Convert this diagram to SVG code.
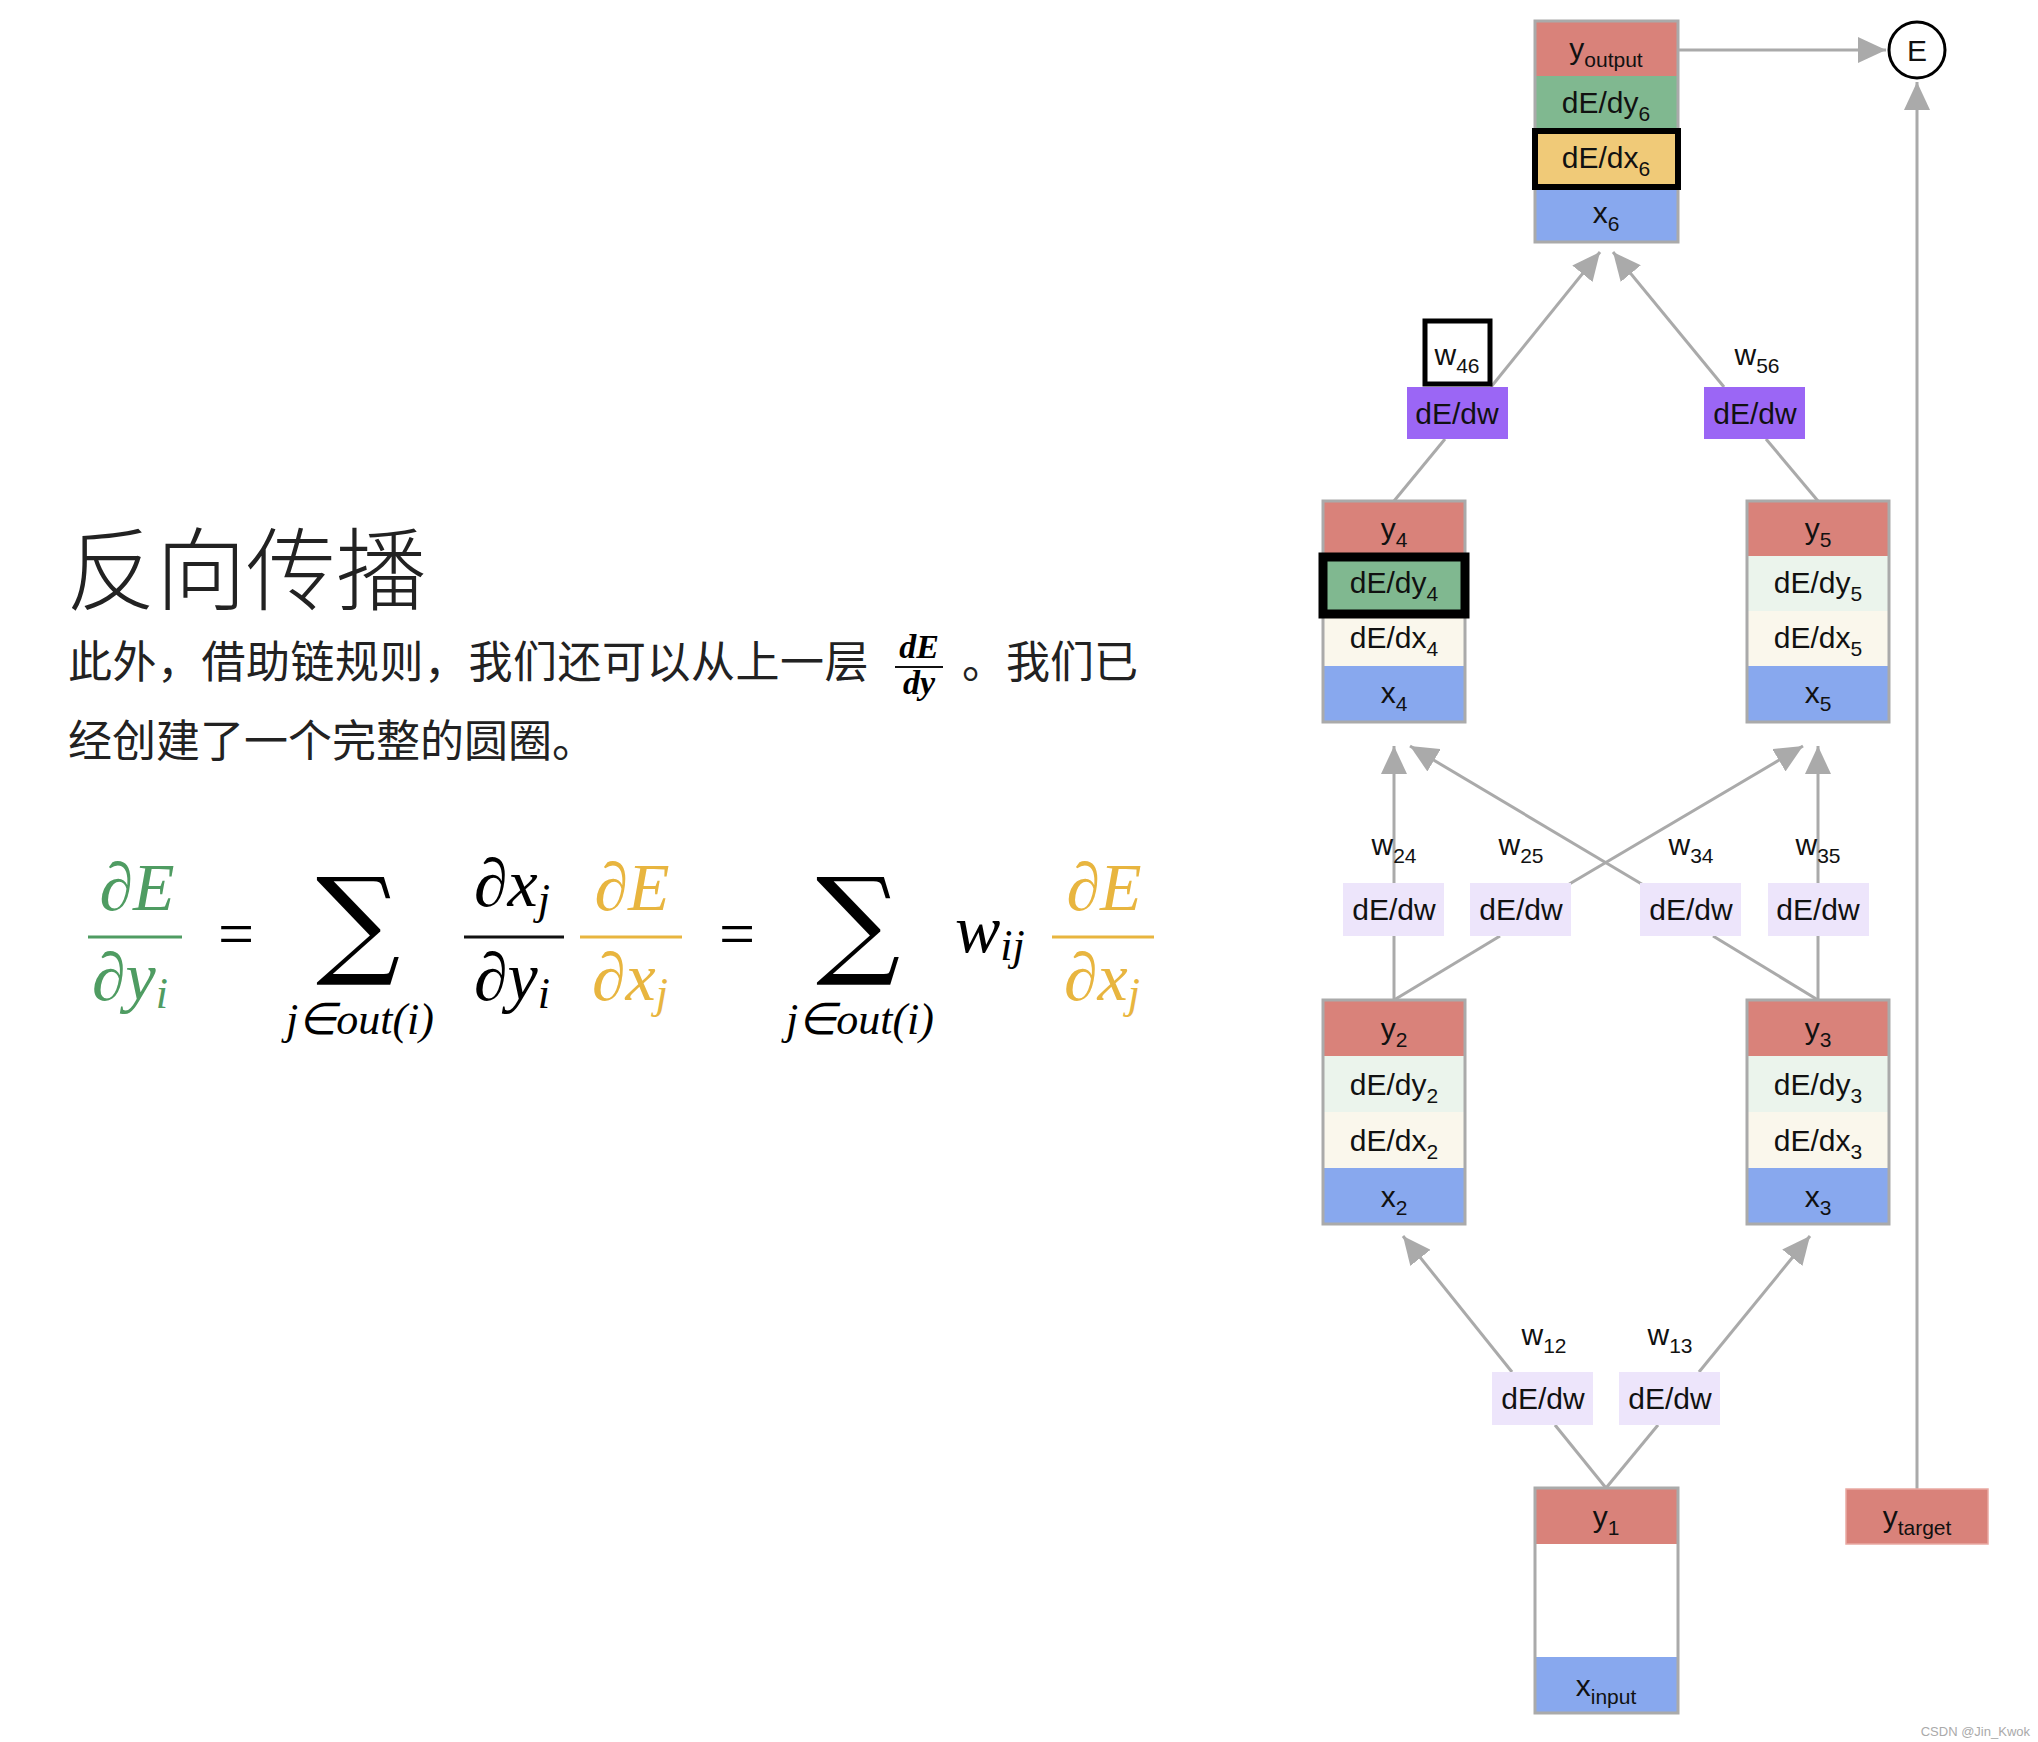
<svg xmlns="http://www.w3.org/2000/svg" width="2038" height="1742" viewBox="0 0 2038 1742">
<style>
.t{font-family:"Liberation Sans",Arial,sans-serif;font-size:30px;fill:#111;text-anchor:middle}
.s{font-size:21px}
.bd{fill:none;stroke:#aaa;stroke-width:3}
.ln{stroke:#aaa;stroke-width:3;fill:none}
.r{fill:#d9827a}.g{fill:#80b890}.y{fill:#f0ca78}.b{fill:#88a8ee}.lg{fill:#ebf4ec}.cr{fill:#faf7ec}
.p{fill:#9b66f5}.lp{fill:#ede5fb}
.cn{font-family:"Noto Sans CJK SC",sans-serif;fill:#222}
.m{font-family:"Liberation Serif","Times New Roman",serif;font-style:italic}
</style>
<defs>
<marker id="ah" markerUnits="userSpaceOnUse" markerWidth="30" markerHeight="26" refX="28" refY="13" orient="auto"><path d="M0,0 L28,13 L0,26 Z" fill="#aaa"/></marker>
</defs>
<rect width="2038" height="1742" fill="#fff"/>
<g id="text-left">
<text class="cn" x="66" y="603" font-size="90" font-weight="300">反向传播</text>
<text class="cn" x="68" y="678" font-size="44" letter-spacing="0.5">此外，借助链规则，我们还可以从上一层</text>
<text class="m" x="919" y="658" font-size="34" font-weight="bold" text-anchor="middle">dE</text>
<line x1="895" y1="667" x2="943" y2="667" stroke="#111" stroke-width="2"/>
<text class="m" x="919" y="694" font-size="34" font-weight="bold" text-anchor="middle">dy</text>
<text class="cn" x="962" y="678" font-size="44">。我们已</text>
<text class="cn" x="68" y="757" font-size="44">经创建了一个完整的圆圈。</text>
</g>
<g id="equation" class="m" font-size="68">
<text x="137" y="910" fill="#4f9c62" text-anchor="middle">∂E</text>
<line x1="88" y1="937" x2="182" y2="937" stroke="#4f9c62" stroke-width="3"/>
<text x="130" y="1000" fill="#4f9c62" text-anchor="middle">∂y<tspan font-size="44" dy="8">i</tspan></text>
<text x="236" y="955" font-style="normal" font-size="64" text-anchor="middle">=</text>
<text x="358" y="962" font-style="normal" font-size="118" font-family="DejaVu Serif,serif" text-anchor="middle">∑</text>
<text x="360" y="1034" font-size="44" text-anchor="middle">j∈out(i)</text>
<text x="512" y="906" text-anchor="middle">∂x<tspan font-size="44" dy="8">j</tspan></text>
<line x1="464" y1="937" x2="564" y2="937" stroke="#111" stroke-width="3"/>
<text x="512" y="1000" text-anchor="middle">∂y<tspan font-size="44" dy="8">i</tspan></text>
<text x="632" y="910" fill="#e8b53f" text-anchor="middle">∂E</text>
<line x1="580" y1="937" x2="682" y2="937" stroke="#e8b53f" stroke-width="3"/>
<text x="630" y="1000" fill="#e8b53f" text-anchor="middle">∂x<tspan font-size="44" dy="8">j</tspan></text>
<text x="737" y="955" font-style="normal" font-size="64" text-anchor="middle">=</text>
<text x="858" y="962" font-style="normal" font-size="118" font-family="DejaVu Serif,serif" text-anchor="middle">∑</text>
<text x="860" y="1034" font-size="44" text-anchor="middle">j∈out(i)</text>
<text x="955" y="952">w<tspan font-size="44" dy="8">ij</tspan></text>
<text x="1104" y="910" fill="#e8b53f" text-anchor="middle">∂E</text>
<line x1="1052" y1="937" x2="1154" y2="937" stroke="#e8b53f" stroke-width="3"/>
<text x="1102" y="1000" fill="#e8b53f" text-anchor="middle">∂x<tspan font-size="44" dy="8">j</tspan></text>
</g>
<g id="connectors">
<line class="ln" x1="1678" y1="50" x2="1886" y2="50" marker-end="url(#ah)"/>
<line class="ln" x1="1917" y1="1489" x2="1917" y2="82" marker-end="url(#ah)"/>
<line class="ln" x1="1394" y1="501" x2="1445" y2="439"/>
<line class="ln" x1="1491" y1="387" x2="1600" y2="252" marker-end="url(#ah)"/>
<line class="ln" x1="1818" y1="501" x2="1766" y2="439"/>
<line class="ln" x1="1724" y1="387" x2="1613" y2="252" marker-end="url(#ah)"/>
<line class="ln" x1="1394" y1="1000" x2="1394" y2="746" marker-end="url(#ah)"/>
<line class="ln" x1="1818" y1="1000" x2="1818" y2="746" marker-end="url(#ah)"/>
<line class="ln" x1="1394" y1="1000" x2="1500" y2="936"/>
<line class="ln" x1="1818" y1="1000" x2="1713" y2="936"/>
<line class="ln" x1="1645" y1="886" x2="1410" y2="746" marker-end="url(#ah)"/>
<line class="ln" x1="1566" y1="886" x2="1803" y2="746" marker-end="url(#ah)"/>
<line class="ln" x1="1606" y1="1488" x2="1555" y2="1425"/>
<line class="ln" x1="1606" y1="1488" x2="1658" y2="1425"/>
<line class="ln" x1="1512" y1="1372" x2="1403" y2="1236" marker-end="url(#ah)"/>
<line class="ln" x1="1699" y1="1372" x2="1810" y2="1236" marker-end="url(#ah)"/>
</g>
<g id="node6">
<rect class="r" x="1535" y="21" width="143" height="55"/>
<rect class="g" x="1535" y="76" width="143" height="55"/>
<rect class="y" x="1535" y="131" width="143" height="55"/>
<rect class="b" x="1535" y="186" width="143" height="56"/>
<rect class="bd" x="1535" y="21" width="143" height="221"/>
<rect x="1535" y="131" width="143" height="56" fill="none" stroke="#000" stroke-width="6"/>
<text class="t" x="1606" y="59">y<tspan class="s" dy="8">output</tspan></text>
<text class="t" x="1606" y="113">dE/dy<tspan class="s" dy="8">6</tspan></text>
<text class="t" x="1606" y="168">dE/dx<tspan class="s" dy="8">6</tspan></text>
<text class="t" x="1606" y="223">x<tspan class="s" dy="8">6</tspan></text>
</g>
<g id="E"><circle cx="1917" cy="50" r="28" fill="#fff" stroke="#000" stroke-width="3"/><text class="t" x="1917" y="61">E</text></g>
<g id="w46"><rect x="1425" y="321" width="65" height="63" fill="#fff" stroke="#000" stroke-width="5"/><text class="t" x="1457" y="365">w<tspan class="s" dy="8">46</tspan></text></g>
<g id="dw46"><rect class="p" x="1407" y="387" width="101" height="52"/><text class="t" x="1457" y="424">dE/dw</text></g>
<g id="w56"><text class="t" x="1757" y="365">w<tspan class="s" dy="8">56</tspan></text></g>
<g id="dw56"><rect class="p" x="1704" y="387" width="101" height="52"/><text class="t" x="1755" y="424">dE/dw</text></g>
<g id="node4">
<rect class="r" x="1323" y="501" width="142" height="55"/>
<rect class="g" x="1323" y="556" width="142" height="55"/>
<rect class="cr" x="1323" y="611" width="142" height="55"/>
<rect class="b" x="1323" y="666" width="142" height="56"/>
<rect class="bd" x="1323" y="501" width="142" height="221"/>
<rect x="1323" y="557" width="142" height="57" fill="none" stroke="#000" stroke-width="9"/>
<text class="t" x="1394" y="539">y<tspan class="s" dy="8">4</tspan></text>
<text class="t" x="1394" y="593">dE/dy<tspan class="s" dy="8">4</tspan></text>
<text class="t" x="1394" y="648">dE/dx<tspan class="s" dy="8">4</tspan></text>
<text class="t" x="1394" y="703">x<tspan class="s" dy="8">4</tspan></text>
</g>
<g id="node5">
<rect class="r" x="1747" y="501" width="142" height="55"/>
<rect class="lg" x="1747" y="556" width="142" height="55"/>
<rect class="cr" x="1747" y="611" width="142" height="55"/>
<rect class="b" x="1747" y="666" width="142" height="56"/>
<rect class="bd" x="1747" y="501" width="142" height="221"/>
<text class="t" x="1818" y="539">y<tspan class="s" dy="8">5</tspan></text>
<text class="t" x="1818" y="593">dE/dy<tspan class="s" dy="8">5</tspan></text>
<text class="t" x="1818" y="648">dE/dx<tspan class="s" dy="8">5</tspan></text>
<text class="t" x="1818" y="703">x<tspan class="s" dy="8">5</tspan></text>
</g>
<g id="weights-mid">
<text class="t" x="1394" y="855">w<tspan class="s" dy="8">24</tspan></text>
<text class="t" x="1521" y="855">w<tspan class="s" dy="8">25</tspan></text>
<text class="t" x="1691" y="855">w<tspan class="s" dy="8">34</tspan></text>
<text class="t" x="1818" y="855">w<tspan class="s" dy="8">35</tspan></text>
<rect class="lp" x="1343" y="883" width="101" height="53"/><text class="t" x="1394" y="920">dE/dw</text>
<rect class="lp" x="1470" y="883" width="101" height="53"/><text class="t" x="1521" y="920">dE/dw</text>
<rect class="lp" x="1640" y="883" width="101" height="53"/><text class="t" x="1691" y="920">dE/dw</text>
<rect class="lp" x="1768" y="883" width="101" height="53"/><text class="t" x="1818" y="920">dE/dw</text>
</g>
<g id="node2">
<rect class="r" x="1323" y="1000" width="142" height="56"/>
<rect class="lg" x="1323" y="1056" width="142" height="56"/>
<rect class="cr" x="1323" y="1112" width="142" height="56"/>
<rect class="b" x="1323" y="1168" width="142" height="56"/>
<rect class="bd" x="1323" y="1000" width="142" height="224"/>
<text class="t" x="1394" y="1039">y<tspan class="s" dy="8">2</tspan></text>
<text class="t" x="1394" y="1095">dE/dy<tspan class="s" dy="8">2</tspan></text>
<text class="t" x="1394" y="1151">dE/dx<tspan class="s" dy="8">2</tspan></text>
<text class="t" x="1394" y="1207">x<tspan class="s" dy="8">2</tspan></text>
</g>
<g id="node3">
<rect class="r" x="1747" y="1000" width="142" height="56"/>
<rect class="lg" x="1747" y="1056" width="142" height="56"/>
<rect class="cr" x="1747" y="1112" width="142" height="56"/>
<rect class="b" x="1747" y="1168" width="142" height="56"/>
<rect class="bd" x="1747" y="1000" width="142" height="224"/>
<text class="t" x="1818" y="1039">y<tspan class="s" dy="8">3</tspan></text>
<text class="t" x="1818" y="1095">dE/dy<tspan class="s" dy="8">3</tspan></text>
<text class="t" x="1818" y="1151">dE/dx<tspan class="s" dy="8">3</tspan></text>
<text class="t" x="1818" y="1207">x<tspan class="s" dy="8">3</tspan></text>
</g>
<g id="weights-low">
<text class="t" x="1544" y="1345">w<tspan class="s" dy="8">12</tspan></text>
<text class="t" x="1670" y="1345">w<tspan class="s" dy="8">13</tspan></text>
<rect class="lp" x="1492" y="1372" width="101" height="53"/><text class="t" x="1543" y="1409">dE/dw</text>
<rect class="lp" x="1619" y="1372" width="101" height="53"/><text class="t" x="1670" y="1409">dE/dw</text>
</g>
<g id="node1">
<rect class="r" x="1535" y="1488" width="143" height="56"/>
<rect fill="#fff" x="1535" y="1544" width="143" height="113"/>
<rect class="b" x="1535" y="1657" width="143" height="56"/>
<rect class="bd" x="1535" y="1488" width="143" height="225"/>
<text class="t" x="1606" y="1527">y<tspan class="s" dy="8">1</tspan></text>
<text class="t" x="1606" y="1696">x<tspan class="s" dy="8">input</tspan></text>
</g>
<g id="ytarget">
<rect class="r" x="1846" y="1489" width="142" height="55" stroke="#e9a9a3" stroke-width="1.5"/>
<text class="t" x="1917" y="1527">y<tspan class="s" dy="8">target</tspan></text>
</g>
<text x="2030" y="1736" font-family="Liberation Sans,sans-serif" font-size="13" fill="#aaa" text-anchor="end">CSDN @Jin_Kwok</text>
</svg>
